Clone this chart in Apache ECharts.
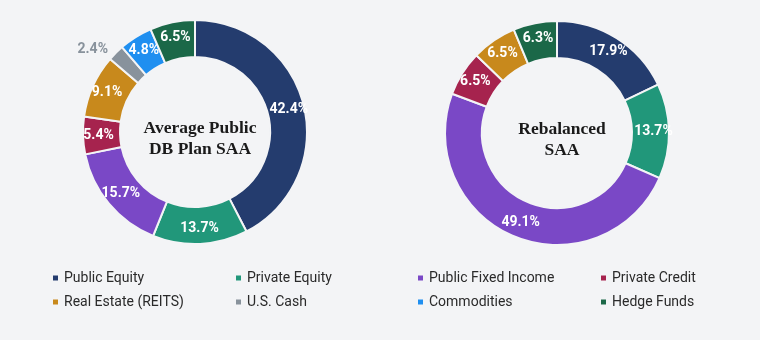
<!DOCTYPE html>
<html lang="en">
<head>
    <meta charset="UTF-8">
    <title>SAA donuts</title>
    <style>
        html, body { margin: 0; padding: 0; width: 100%; height: 100%; background: #f3f4f6; }
        #main { width: 760px; height: 340px; }
    </style>
</head>
<body>
    <div id="main"></div>
    <script src="https://cdn.jsdelivr.net/npm/echarts@6/dist/echarts.min.js"></script>
    <script>
        var categories = ['Public Equity', 'Private Equity', 'Public Fixed Income', 'Private Credit',
                          'Real Estate (REITS)', 'U.S. Cash', 'Commodities', 'Hedge Funds'];
        var colors = ['#243c6e', '#21977a', '#7a48c6', '#a6234e', '#c8891c', '#88929c', '#1f8ff0', '#1b6848'];
        var averageSAA = [42.4, 13.7, 15.7, 5.4, 9.1, 2.4, 4.8, 6.5];
        var rebalancedSAA = [17.9, 13.7, 49.1, 6.5, 6.5, 0, 0, 6.3];

        function buildData(values) {
            var out = [];
            for (var i = 0; i < values.length; i++) {
                if (!values[i]) continue;
                var item = { name: categories[i], value: values[i], itemStyle: { color: colors[i] } };
                if (values[i] < 3) {
                    // too thin for an inside label, put it just outside
                    item.label = { position: 'outside', color: '#88929c', fontWeight: 'bold' };
                    item.labelLine = { show: false, length: 4, length2: 0 };
                }
                out.push(item);
            }
            return out;
        }

        var pieBase = {
            type: 'pie',
            radius: [75, 112],
            startAngle: 90,
            avoidLabelOverlap: false,
            itemStyle: { borderColor: '#f3f4f6', borderWidth: 2 },
            label: {
                show: true,
                position: 'inside',
                formatter: '{c}%',
                color: '#fff',
                fontFamily: 'Roboto',
                fontWeight: 'bold',
                fontSize: 14
            },
            emphasis: { disabled: true }
        };

        var legendText = { color: '#2a2a2a', fontFamily: 'Roboto', fontSize: 14 };
        function column(x, names) {
            return {
                orient: 'vertical', left: x, top: 266, itemWidth: 7, itemHeight: 7, itemGap: 10,
                icon: 'rect', textStyle: legendText, data: names, selectedMode: false
            };
        }

        var titleStyle = { fontFamily: 'Liberation Serif', fontWeight: 'bold', fontSize: 17.5, lineHeight: 21, color: '#1a1a1a' };

        var myChart = echarts.init(document.getElementById('main'));
        myChart.setOption({
            backgroundColor: '#f3f4f6',
            animation: false,
            title: [
                { text: 'Average Public\nDB Plan SAA', left: 195, top: 113, textAlign: 'center', textStyle: titleStyle },
                { text: 'Rebalanced\nSAA', left: 557, top: 114, textAlign: 'center', textStyle: titleStyle }
            ],
            legend: [
                column(46, [categories[0], categories[4]]),
                column(229, [categories[1], categories[5]]),
                column(411, [categories[2], categories[6]]),
                column(594, [categories[3], categories[7]])
            ],
            series: [
                Object.assign({}, pieBase, { name: 'Average', center: [195, 132], data: buildData(averageSAA) }),
                Object.assign({}, pieBase, { name: 'Rebalanced', center: [557, 133], data: buildData(rebalancedSAA) })
            ]
        });
    </script>
</body>
</html>
